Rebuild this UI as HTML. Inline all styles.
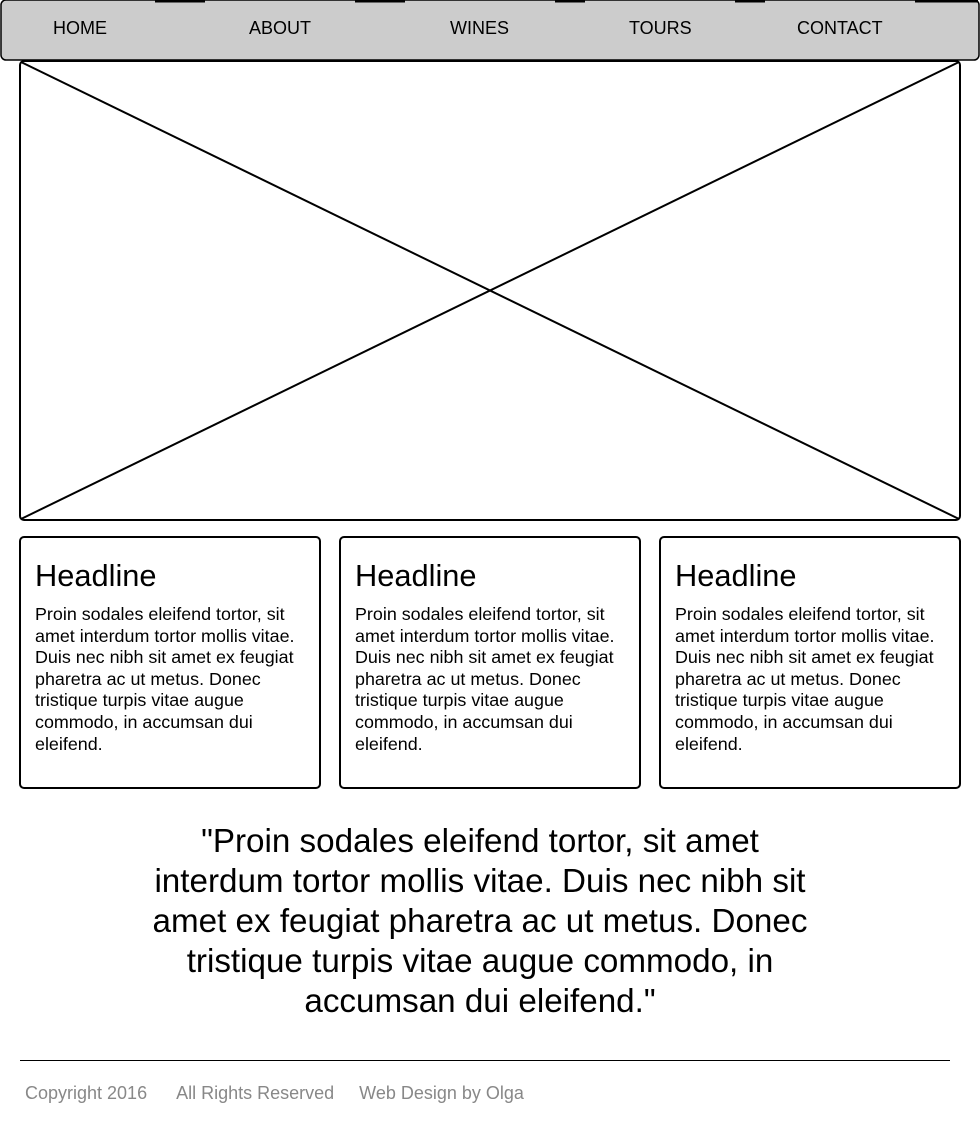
<!DOCTYPE html>
<html><head><meta charset="utf-8"><style>
html,body{margin:0;padding:0;background:#fff;width:980px;height:1140px;overflow:hidden;font-family:"Liberation Sans",Arial,sans-serif}
.a{position:absolute}
.nav{font-size:18px;color:#000;top:18px}
.card{position:absolute;top:536px;width:302px;height:253px;box-sizing:border-box;border:2px solid #000;border-radius:5px;background:#fff}
.card h2{position:absolute;left:14px;top:20px;margin:0;font-weight:normal;font-size:30.8px;line-height:36px}
.card p{position:absolute;left:14px;top:66px;width:272px;margin:0;font-size:17.9px;line-height:21.6px}
</style></head><body>
<svg class="a" style="left:0;top:0" width="980" height="530">
<rect x="1" y="0" width="978" height="60" rx="5" fill="#ccc" stroke="#000" stroke-width="1.5"/>
<g stroke="#000" stroke-width="3"><line x1="155" y1="1" x2="205" y2="1"/><line x1="355" y1="1" x2="405" y2="1"/><line x1="555" y1="1" x2="585" y2="1"/><line x1="735" y1="1" x2="765" y2="1"/><line x1="915" y1="1" x2="978" y2="1"/></g>
<rect x="20" y="61" width="940" height="459" rx="4" fill="none" stroke="#000" stroke-width="2"/>
<line x1="21" y1="62" x2="959" y2="519" stroke="#000" stroke-width="2"/>
<line x1="959" y1="62" x2="21" y2="519" stroke="#000" stroke-width="2"/>
</svg>
<div class="a nav" style="left:53px">HOME</div>
<div class="a nav" style="left:249px">ABOUT</div>
<div class="a nav" style="left:450px">WINES</div>
<div class="a nav" style="left:629px">TOURS</div>
<div class="a nav" style="left:797px">CONTACT</div>
<div class="card" style="left:19px"><h2>Headline</h2><p>Proin sodales eleifend tortor, sit amet interdum tortor mollis vitae. Duis nec nibh sit amet ex feugiat pharetra ac ut metus. Donec tristique turpis vitae augue commodo, in accumsan dui eleifend.</p></div>
<div class="card" style="left:339px"><h2>Headline</h2><p>Proin sodales eleifend tortor, sit amet interdum tortor mollis vitae. Duis nec nibh sit amet ex feugiat pharetra ac ut metus. Donec tristique turpis vitae augue commodo, in accumsan dui eleifend.</p></div>
<div class="card" style="left:659px"><h2>Headline</h2><p>Proin sodales eleifend tortor, sit amet interdum tortor mollis vitae. Duis nec nibh sit amet ex feugiat pharetra ac ut metus. Donec tristique turpis vitae augue commodo, in accumsan dui eleifend.</p></div>
<div class="a" style="left:100px;top:822px;width:760px;text-align:center;font-size:33.2px;line-height:40px">"Proin sodales eleifend tortor, sit amet<br>interdum tortor mollis vitae. Duis nec nibh sit<br>amet ex feugiat pharetra ac ut metus. Donec<br>tristique turpis vitae augue commodo, in<br>accumsan dui eleifend."</div>
<div class="a" style="left:20px;top:1060px;width:930px;height:1px;background:#000"></div>
<div class="a" style="left:25px;top:1083px;font-size:18px;color:#888;white-space:pre">Copyright 2016      All Rights Reserved     Web Design by Olga</div>
</body></html>
